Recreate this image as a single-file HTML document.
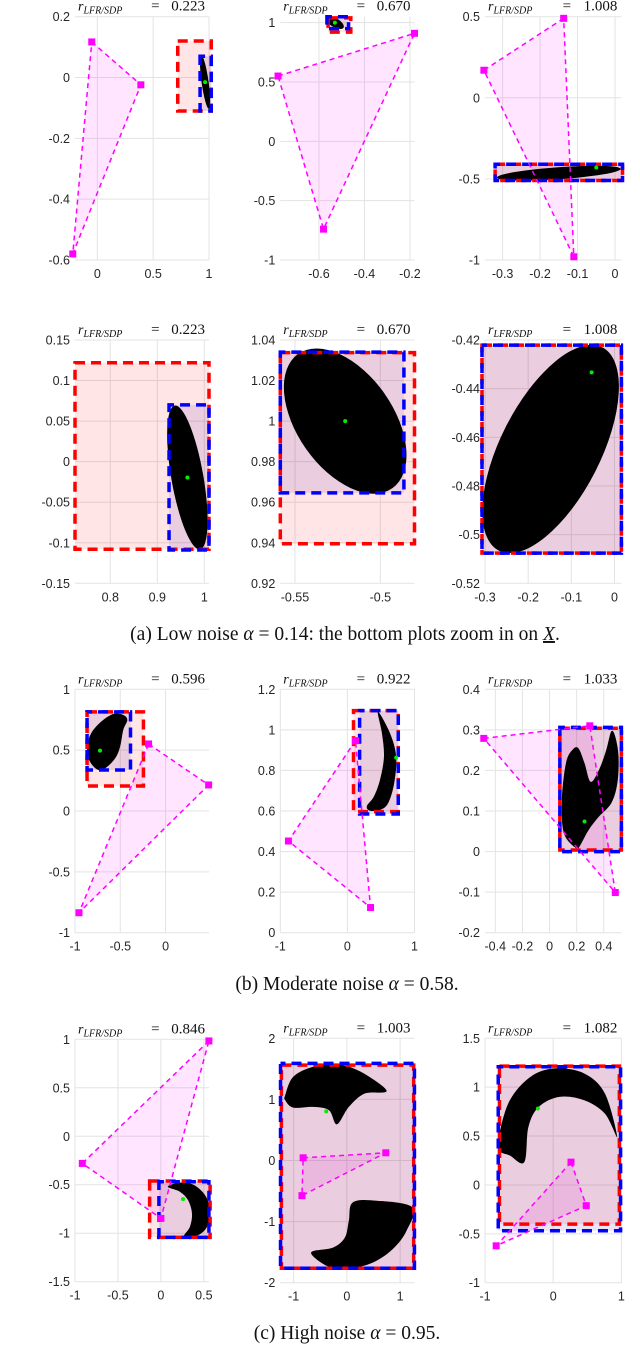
<!DOCTYPE html>
<html><head><meta charset="utf-8">
<style>
html,body{margin:0;padding:0;background:#fff;}
svg{display:block;}
.tk{font-family:"Liberation Sans",sans-serif;font-size:12.5px;fill:#262626;}
.ttl{font-family:"Liberation Serif",serif;fill:#111;}
.cap{font-family:"Liberation Serif",serif;font-size:19.5px;fill:#111;}
</style></head>
<body>
<svg id="fig" width="640" height="1369" viewBox="0 0 640 1369" xmlns="http://www.w3.org/2000/svg">
<text class="cap" x="345" y="640" text-anchor="middle">(a) Low noise <tspan font-style="italic">α</tspan> = 0.14: the bottom plots zoom in on <tspan font-style="italic" text-decoration="underline">X</tspan>.</text>
<text class="cap" x="347" y="990" text-anchor="middle">(b) Moderate noise <tspan font-style="italic">α</tspan> = 0.58.</text>
<text class="cap" x="347" y="1339" text-anchor="middle">(c) High noise <tspan font-style="italic">α</tspan> = 0.95.</text>
<text class="cap" x="0" y="1384" fill="#555">Fig. 3:  Example instances with low, moderate and high noise</text>
</svg>
<script>
// ---- data (per panel) ----
const ratios = ["0.223","0.670","1.008","0.223","0.670","1.008","0.596","0.922","1.033","0.846","1.003","1.082"];
const xlims = [[-0.2,1],[-0.77,-0.18],[-0.347,0.017],[0.725,1.01],[-0.5586,-0.48],[-0.3,0.016],[-1,0.48],[-1,1],[-0.476,0.53],[-1,0.56],[-1.25,1.27],[-1,1]];
const ylims = [[-0.6,0.2],[-1,1.05],[-1,0.5],[-0.15,0.15],[0.92,1.04],[-0.52,-0.42],[-1,1],[0,1.2],[-0.2,0.4],[-1.5,1],[-2,2],[-1,1.5]];
const xticks = [[0,0.5,1],[-0.6,-0.4,-0.2],[-0.3,-0.2,-0.1,0],[0.8,0.9,1],[-0.55,-0.5],[-0.3,-0.2,-0.1,0],[-1,-0.5,0],[-1,0,1],[-0.4,-0.2,0,0.2,0.4],[-1,-0.5,0,0.5],[-1,0,1],[-1,0,1]];
const yticks = [[0.2,0,-0.2,-0.4,-0.6],[1,0.5,0,-0.5,-1],[0.5,0,-0.5,-1],[0.15,0.1,0.05,0,-0.05,-0.1,-0.15],[1.04,1.02,1,0.98,0.96,0.94,0.92],[-0.42,-0.44,-0.46,-0.48,-0.5,-0.52],[1,0.5,0,-0.5,-1],[1.2,1,0.8,0.6,0.4,0.2,0],[0.4,0.3,0.2,0.1,0,-0.1,-0.2],[1,0.5,0,-0.5,-1,-1.5],[2,1,0,-1,-2],[1.5,1,0.5,0,-0.5,-1]];
const triangles = [
 [[-0.05,0.117],[0.39,-0.024],[-0.22,-0.58]],
 [[-0.78,0.55],[-0.18,0.91],[-0.58,-0.74]],
 [[-0.137,0.49],[-0.35,0.17],[-0.11,-0.98]],
 null,null,null,
 [[-0.187,0.551],[0.476,0.214],[-0.956,-0.836]],
 [[0.121,0.947],[-0.879,0.452],[0.345,0.124]],
 [[-0.485,0.279],[0.297,0.31],[0.485,-0.101]],
 [[0.559,0.983],[-0.915,-0.28],[0,-0.847]],
 [[-0.821,0.044],[0.731,0.126],[-0.843,-0.575]],
 [[0.261,0.233],[0.485,-0.212],[-0.836,-0.623]]
];
const redBoxes = [[0.72,1.02,-0.11,0.12],[-0.56,-0.46,0.92,1.04],[-0.32,0.02,-0.51,-0.41],[0.725,1.01,-0.108,0.122],[-0.5586,-0.48,0.9395,1.0338],[-0.307,0.016,-0.5076,-0.4221],[-0.867,-0.244,0.205,0.814],[0.091,0.758,0.597,1.095],[0.076,0.53,0.004,0.304],[-0.131,0.573,-1.043,-0.462],[-1.23,1.255,-1.764,1.56],[-0.788,0.97,-0.401,1.216]];
const blueBoxes = [[0.92,1.02,-0.11,0.07],[-0.565,-0.47,0.95,1.05],[-0.32,0.02,-0.51,-0.41],[0.925,1.01,-0.109,0.07],[-0.5586,-0.4862,0.9646,1.034],[-0.307,0.016,-0.5076,-0.4221],[-0.867,-0.387,0.337,0.814],[0.182,0.758,0.585,1.095],[0.076,0.53,0,0.306],[-0.023,0.559,-1.043,-0.469],[-1.246,1.269,-1.764,1.589],[-0.806,0.988,-0.469,1.209]];
const ellipseCenters = [[0.965,-0.015],[-0.53,1.0],[-0.15,-0.465],[0.964,-0.0195],[-0.5206,1.0],[-0.148,-0.4648]];
const ellipseAxes = [[27,3.5,82],[10,4.5,30],[62,6,-4],[73,16,80],[82,48,55],[114,50,-63]];
const greenDots = [[0.965,-0.015],[-0.53,1.0],[-0.05,-0.43],[0.964,-0.0195],[-0.5206,1.0],[-0.053,-0.4333],[-0.724,0.496],[0.727,0.863],[0.258,0.074],[0.258,-0.648],[-0.388,0.805],[-0.224,0.782]];
const blob7 = [[-0.467,0.789],[-0.422,0.748],[-0.467,0.666],[-0.502,0.529],[-0.556,0.433],[-0.667,0.351],[-0.756,0.342],[-0.844,0.419],[-0.867,0.529],[-0.822,0.638],[-0.711,0.734],[-0.578,0.797]];
const blob8 = [[0.455,1.09],[0.636,0.983],[0.727,0.868],[0.697,0.737],[0.606,0.638],[0.485,0.605],[0.333,0.602],[0.291,0.625],[0.394,0.671],[0.485,0.753],[0.545,0.868],[0.515,0.983]];
const blob9 = [[0.197,0.008],[0.106,0.045],[0.091,0.127],[0.121,0.218],[0.167,0.25],[0.212,0.255],[0.258,0.218],[0.303,0.172],[0.364,0.201],[0.418,0.25],[0.455,0.296],[0.485,0.283],[0.509,0.234],[0.5,0.168],[0.455,0.119],[0.364,0.086],[0.288,0.053],[0.227,0.016]];
const blob10 = [[0.08,-0.52],[0.221,-0.479],[0.385,-0.503],[0.526,-0.624],[0.573,-0.796],[0.526,-0.95],[0.408,-1.03],[0.268,-1.036],[0.338,-0.933],[0.362,-0.796],[0.315,-0.658],[0.221,-0.572]];
const blob11a = [[-1.157,1.071],[-1.007,1.37],[-0.634,1.534],[-0.187,1.578],[0.261,1.452],[0.746,1.14],[0.336,1.096],[0.037,0.877],[-0.187,0.592],[-0.336,0.822],[-0.634,0.877],[-1.007,0.866],[-1.157,0.986]];
const blob11b = [[0.112,-0.685],[0.56,-0.658],[1.231,-0.767],[1.119,-1.151],[0.858,-1.452],[0.485,-1.671],[0.037,-1.77],[-0.336,-1.742],[-0.672,-1.507],[-0.261,-1.425],[-0.037,-1.26],[0.037,-0.986]];
const blob12 = [[-0.788,0.524],[-0.636,0.866],[-0.333,1.106],[0.03,1.192],[0.455,1.14],[0.758,0.935],[0.939,0.49],[0.758,0.729],[0.455,0.866],[0.091,0.901],[-0.212,0.798],[-0.364,0.592],[-0.424,0.233],[-0.636,0.301],[-0.788,0.353]];
const blobs = [null,null,null,null,null,null,[blob7],[blob8],[blob9],[blob10],[blob11a,blob11b],[blob12]];

// ---- layout (pixels) ----
const colX = [[75,209],[280.3,414.5],[485,621.4]];
const rowsY = [[16.7,260],[340,583.3],[689.3,932.7],[1039.3,1281.7]];
const row11Y = [1038.3,1282.7];
const NS='http://www.w3.org/2000/svg';
const svg=document.getElementById('fig');
function mk(tag,attrs,parent){const e=document.createElementNS(NS,tag);for(const k in attrs)e.setAttribute(k,attrs[k]);(parent||svg).appendChild(e);return e;}

for(let i=0;i<12;i++){
  const r=Math.floor(i/3), c=i%3;
  const [L,R]=colX[c];
  let [T,B]=rowsY[r];
  if(i===10||i===11){T=row11Y[0];B=row11Y[1];}
  const xl=xlims[i], yl=ylims[i];
  const sx=v=>L+(v-xl[0])/(xl[1]-xl[0])*(R-L);
  const sy=v=>B-(v-yl[0])/(yl[1]-yl[0])*(B-T);
  const g=mk('g',{});
  
  
  xticks[i].forEach(v=>{const l=mk('line',{x1:sx(v),x2:sx(v),y1:T,y2:B,stroke:'#e3e3e3','stroke-width':1},g);
    
    const t=mk('text',{x:sx(v),y:B+18,'text-anchor':'middle',class:'tk'},g);t.textContent=String(v);
    });
  yticks[i].forEach(v=>{const l=mk('line',{x1:L,x2:R,y1:sy(v),y2:sy(v),stroke:'#e3e3e3','stroke-width':1},g);
    
    const t=mk('text',{x:L-5,y:sy(v)+4.5,'text-anchor':'end',class:'tk'},g);t.textContent=String(v);
    });
  const tt=mk('text',{x:L+3,y:T-6,class:'ttl'},g);
  
  tt.innerHTML='<tspan font-style="italic" font-size="14">r</tspan><tspan font-style="italic" font-size="10" dy="3">LFR/SDP</tspan>';
  const te=mk('text',{x:L+(R-L)*0.6,y:T-6,class:'ttl','font-size':15,'text-anchor':'middle'},g);
  
  te.textContent='=';
  const tv=mk('text',{x:R-4,y:T-6,class:'ttl','font-size':15,'text-anchor':'end'},g);
  
  tv.textContent=ratios[i];
  const tri=triangles[i];
  const triPts=tri?tri.map(p=>sx(p[0])+','+sy(p[1])).join(' '):null;
  if(tri){const p=mk('polygon',{points:triPts,fill:'#ff00ff','fill-opacity':0.1,stroke:'none'},g);
    }
  const rb=redBoxes[i], bb=blueBoxes[i];
  const rr=mk('rect',{x:sx(rb[0]),y:sy(rb[3]),width:sx(rb[1])-sx(rb[0]),height:sy(rb[2])-sy(rb[3]),fill:'#ff0000','fill-opacity':0.1},g);
  
  const br=mk('rect',{x:sx(bb[0]),y:sy(bb[3]),width:sx(bb[1])-sx(bb[0]),height:sy(bb[2])-sy(bb[3]),fill:'#3300aa','fill-opacity':0.1},g);
  
  if(i<6){const ec=ellipseCenters[i], ea=ellipseAxes[i];
    const e=mk('ellipse',{cx:sx(ec[0]),cy:sy(ec[1]),rx:ea[0],ry:ea[1],fill:'#000',transform:'rotate('+ea[2]+' '+sx(ec[0])+' '+sy(ec[1])+')'},g);
    }
  else blobs[i].forEach(b=>{
    const pts=b.map(p=>[sx(p[0]),sy(p[1])]);
    let d='M'+pts[0][0]+','+pts[0][1];
    const n=pts.length;
    for(let k=0;k<n;k++){const p0=pts[(k-1+n)%n],p1=pts[k],p2=pts[(k+1)%n],p3=pts[(k+2)%n];
      const c1=[p1[0]+(p2[0]-p0[0])/6,p1[1]+(p2[1]-p0[1])/6], c2=[p2[0]-(p3[0]-p1[0])/6,p2[1]-(p3[1]-p1[1])/6];
      d+=' C'+c1+' '+c2+' '+p2;}
    const p=mk('path',{d:d+'Z',fill:'#000'},g);
    });
  const ro=mk('rect',{x:sx(rb[0]),y:sy(rb[3]),width:sx(rb[1])-sx(rb[0]),height:sy(rb[2])-sy(rb[3]),fill:'none',stroke:'#ff0000','stroke-width':3.5,'stroke-dasharray':'10 6'},g);
  
  const bo=mk('rect',{x:sx(bb[0]),y:sy(bb[3]),width:sx(bb[1])-sx(bb[0]),height:sy(bb[2])-sy(bb[3]),fill:'none',stroke:'#0000ff','stroke-width':3.5,'stroke-dasharray':'10 6','stroke-dashoffset':5},g);
  
  if(tri){const p=mk('polygon',{points:triPts,fill:'none',stroke:'#ff00ff','stroke-width':1.5,'stroke-dasharray':'5 4'},g);
    
    tri.forEach(q=>{const m=mk('rect',{x:sx(q[0])-3.5,y:sy(q[1])-3.5,width:7,height:7,fill:'#ff00ff'},g);
      });}
  const gd=greenDots[i];
  const dot=mk('circle',{cx:sx(gd[0]),cy:sy(gd[1]),r:2,fill:'#00ee00'},g);
  
}
</script>
</body></html>
